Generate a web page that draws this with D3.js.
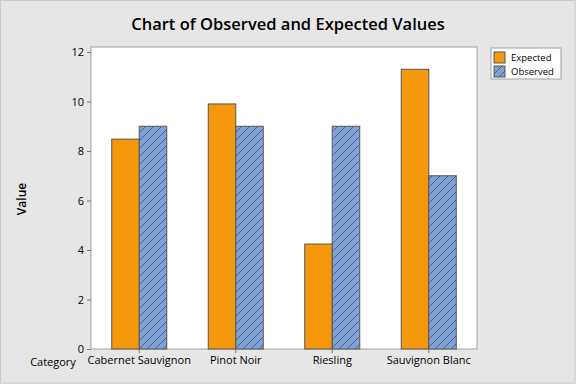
<!DOCTYPE html>
<html><head><meta charset="utf-8">
<script src="https://cdn.jsdelivr.net/npm/d3@7"></script>
<style>body{margin:0;background:#e6e6e6}svg{display:block}</style>
</head><body>
<script>
const categories = ["Cabernet Sauvignon", "Pinot Noir", "Riesling", "Sauvignon Blanc"];
const series = ["Expected", "Observed"];
const expected = [8.48, 9.9, 4.24, 11.3];
const observed = [9, 9, 9, 7];
const yTicks = [0, 2, 4, 6, 8, 10, 12];

const W = 576, H = 384;
const m = {left: 91, right: 99, top: 47, bottom: 35};
const font = "'Open Sans', 'Segoe UI', 'DejaVu Sans', sans-serif";
const svg = d3.select("body").append("svg").attr("width", W).attr("height", H);

svg.append("rect").attr("x", 0.5).attr("y", 0.5).attr("width", W - 1.5).attr("height", H - 1.5)
  .attr("fill", "#e6e6e6").attr("stroke", "#c9c9c9");

const defs = svg.append("defs");
const P = 8;
const pat = defs.append("pattern").attr("id", "hatch").attr("patternUnits", "userSpaceOnUse")
  .attr("width", P).attr("height", P);
pat.append("rect").attr("width", P).attr("height", P).attr("fill", "#7ea2d6");
pat.append("path").attr("d", `M-1,${P+1} L${P+1},-1 M-${P/2},${P/2} L${P/2},-${P/2} M${P/2},${P*1.5} L${P*1.5},${P/2}`)
  .attr("stroke", "#3f5170").attr("stroke-width", 0.8);

const x = d3.scaleBand().domain(categories).range([m.left, W - m.right]);
const x1 = d3.scaleBand().domain(series).range([0, 55]);
const y = d3.scaleLinear().domain([0, 12]).range([349, 52]);

svg.append("rect").attr("x", m.left).attr("y", m.top).attr("width", W - m.right - m.left)
  .attr("height", 349 - m.top).attr("fill", "#fff").attr("stroke", "#a0a0a0");

const data = categories.map((c, i) => ({c, vals: [expected[i], observed[i]]}));
const g = svg.append("g");
data.forEach(d => {
  const cx = x(d.c) + x.bandwidth() / 2 - 27.5;
  d.vals.forEach((v, j) => {
    g.append("rect").attr("x", cx + x1(series[j])).attr("y", y(v))
      .attr("width", x1.bandwidth()).attr("height", y(0) - y(v))
      .attr("fill", j === 0 ? "#f5980c" : "url(#hatch)")
      .attr("stroke", "#555").attr("stroke-width", 1);
  });
});

const yAxis = svg.append("g").attr("transform", `translate(${m.left},0)`)
  .call(d3.axisLeft(y).tickValues(yTicks).tickSize(4).tickPadding(3));
yAxis.select(".domain").remove();
yAxis.selectAll("line").attr("stroke", "#777");
yAxis.selectAll("text").attr("font-family", font).attr("font-size", 11).attr("fill", "#000");

const xAxis = svg.append("g").attr("transform", `translate(0,349)`)
  .call(d3.axisBottom(x).tickSize(4).tickPadding(3));
xAxis.select(".domain").remove();
xAxis.selectAll("line").attr("stroke", "#777");
xAxis.selectAll("text").attr("font-family", font).attr("font-size", 11).attr("fill", "#000");

svg.append("text").attr("x", 53).attr("y", 366).attr("text-anchor", "middle")
  .attr("font-family", font).attr("font-size", 11).attr("fill", "#000").text("Category");

svg.append("text").attr("transform", "translate(26,199) rotate(-90)").attr("text-anchor", "middle")
  .attr("font-family", font).attr("font-size", 12).attr("font-weight", 600).attr("fill", "#000").text("Value");

svg.append("text").attr("x", 288).attr("y", 30).attr("text-anchor", "middle")
  .attr("font-family", font).attr("font-size", 16.5).attr("font-weight", 600).attr("fill", "#000")
  .text("Chart of Observed and Expected Values");

const lg = svg.append("g");
lg.append("rect").attr("x", 491).attr("y", 48).attr("width", 70).attr("height", 31)
  .attr("fill", "#fff").attr("stroke", "#a0a0a0");
series.forEach((s, i) => {
  lg.append("rect").attr("x", 494).attr("y", 52 + i * 14).attr("width", 11).attr("height", 11)
    .attr("fill", i === 0 ? "#f5980c" : "url(#hatch)").attr("stroke", "#555");
  lg.append("text").attr("x", 511).attr("y", 61 + i * 14)
    .attr("font-family", font).attr("font-size", 9.5).attr("fill", "#000").text(s);
});
</script>
</body></html>
